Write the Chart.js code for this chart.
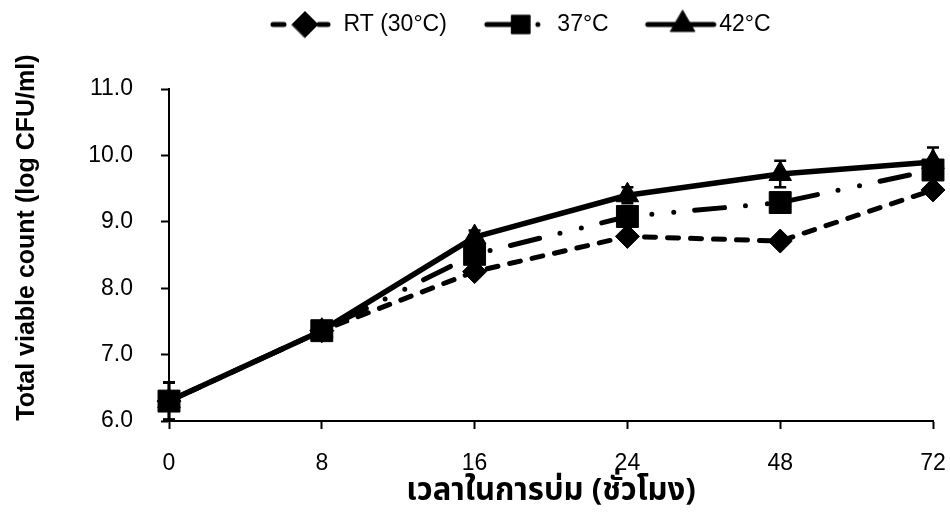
<!DOCTYPE html>
<html lang="th">
<head>
<meta charset="UTF-8">
<title>Total viable count</title>
<script src="https://cdn.jsdelivr.net/npm/chart.js"></script>
<style>
  html, body { margin: 0; padding: 0; background: #fff; }
  .chart-box { width: 950px; height: 530px; }
</style>
</head>
<body>
<div class="chart-box">
  <canvas id="tvcChart"></canvas>
</div>
<script>
// ชั่วโมงที่บ่ม (แกน x เป็นหมวดหมู่ ระยะเท่ากัน)
const hours = ['0', '8', '16', '24', '48', '72'];

// log CFU/ml
const rt30 = [6.30, 7.36, 8.25, 8.78, 8.71, 9.48];
const c37 = [6.30, 7.36, 8.51, 9.08, 9.29, 9.78];
const c42 = [6.30, 7.36, 8.77, 9.40, 9.72, 9.90];

// SD (error bars)
const sdRt = [0.28, 0.04, 0.05, 0.05, 0.05, 0.06];
const sd37 = [0.28, 0.04, 0.06, 0.10, 0.10, 0.10];
const sd42 = [0.28, 0.04, 0.10, 0.12, 0.20, 0.22];

const seriesNames = ['RT (30°C)', '37°C', '42°C'];
const yMin = 6, yMax = 11, yStep = 1;

const latin = "'Liberation Sans', Arial, sans-serif";
const thai = "'Noto Sans Thai', 'Noto Sans Thai UI', Tahoma, 'Noto Sans', sans-serif";

// small picture for the legend: line + marker like in Excel
function legendSample(w, h, dash, lineFrom, lineTo, markerX, style, radius) {
    const c = document.createElement('canvas');
    c.width = w;
    c.height = h;
    const g = c.getContext('2d');
    g.strokeStyle = '#000';
    g.fillStyle = '#000';
    g.lineWidth = 5;
    g.lineCap = 'round';
    g.setLineDash(dash);
    g.beginPath();
    g.moveTo(lineFrom, h / 2);
    g.lineTo(lineTo, h / 2);
    g.stroke();
    g.setLineDash([]);
    g.lineWidth = 1;
    Chart.helpers.drawPoint(g, { pointStyle: style, radius: radius, rotation: 0, borderWidth: 1 }, markerX, h / 2);
    return c;
}

const dashRt = [11, 12];
const dash37 = [30, 21, 0, 22, 0, 21];

const samples = [
    legendSample(64, 32, dashRt, 3, 58, 35, 'rectRot', 13),
    legendSample(72, 32, dash37, 7, 66, 41, 'rect', 13),
    legendSample(84, 32, [], 12, 78, 47, 'triangle', 14)
];

// error bars drawn under the markers, through the chart's own scales
const sdList = [sdRt, sd37, sd42];
const errorBars = {
    id: 'errorBars',
    beforeDatasetsDraw(chart) {
        const { ctx, scales: { x, y } } = chart;
        ctx.save();
        ctx.strokeStyle = '#000';
        ctx.lineWidth = 2.5;
        chart.data.datasets.forEach((ds, i) => {
            sdList[i].forEach((sd, j) => {
                const px = x.getPixelForValue(j);
                const top = y.getPixelForValue(ds.data[j] + sd);
                const bot = y.getPixelForValue(ds.data[j] - sd);
                ctx.beginPath();
                ctx.moveTo(px, top);
                ctx.lineTo(px, bot);
                ctx.moveTo(px - 6, top);
                ctx.lineTo(px + 6, top);
                ctx.moveTo(px - 6, bot);
                ctx.lineTo(px + 6, bot);
                ctx.stroke();
            });
        });
        ctx.restore();
    }
};

// legend: fixed height, moved up and to the right like the original
const legendFix = {
    id: 'legendFix',
    beforeInit(chart) {
        const fit = chart.legend.fit;
        chart.legend.fit = function () {
            fit.call(this);
            this.height = 89;
        };
    },
    afterLayout(chart) {
        chart.legend.left = 233;
        chart.legend.top = -26;
    }
};

function lineSet(label, data, dash, style, radius, width) {
    return {
        label: label,
        data: data,
        borderColor: '#000',
        backgroundColor: '#000',
        borderWidth: width,
        borderDash: dash,
        borderCapStyle: 'round',
        borderJoinStyle: 'round',
        tension: 0,
        pointStyle: style,
        pointRadius: radius,
        pointHoverRadius: radius,
        pointBackgroundColor: '#000',
        pointBorderColor: '#000',
        pointBorderWidth: 1,
        clip: false
    };
}

const ctx = document.getElementById('tvcChart').getContext('2d');
const chart = new Chart(ctx, {
    type: 'line',
    data: {
        labels: hours,
        datasets: [
            Object.assign(lineSet(seriesNames[0], rt30, dashRt, 'rectRot', 12, 5), { order: 3 }),
            Object.assign(lineSet(seriesNames[1], c37, dash37, 'rect', 15.5, 5), { order: 2 }),
            Object.assign(lineSet(seriesNames[2], c42, [], 'triangle', 13, 5.5), { order: 1 })
        ]
    },
    plugins: [errorBars, legendFix],
    options: {
        responsive: true,
        maintainAspectRatio: false,
        animation: false,
        layout: { padding: 0 },
        plugins: {
            tooltip: { enabled: false },
            legend: {
                position: 'top',
                align: 'start',
                labels: {
                    color: '#000',
                    font: { family: latin, size: 23 },
                    usePointStyle: true,
                    pointStyleWidth: 60,
                    padding: 39,
                    generateLabels: () => seriesNames.map((name, i) => ({
                        text: name,
                        pointStyle: samples[i],
                        fillStyle: '#000',
                        strokeStyle: '#000',
                        lineWidth: 0,
                        hidden: false,
                        datasetIndex: i
                    }))
                }
            }
        },
        scales: {
            x: {
                type: 'category',
                offset: false,
                border: { display: true, color: '#000', width: 2 },
                grid: { display: true, drawOnChartArea: false, drawTicks: true, tickLength: 8, tickColor: '#000', tickWidth: 2 },
                ticks: { color: '#000', font: { family: latin, size: 23 }, padding: 21, maxRotation: 0 },
                title: {
                    display: true,
                    text: 'เวลาในการบ่ม (ชั่วโมง)',
                    color: '#000',
                    font: { family: thai, size: 31, weight: 'bold' },
                    padding: { top: 0, bottom: 18 }
                },
                afterFit(scale) {
                    scale.height = 109;
                    scale.paddingRight = 17;
                }
            },
            y: {
                min: yMin,
                max: yMax,
                border: { display: true, color: '#000', width: 2 },
                grid: { display: true, drawOnChartArea: false, drawTicks: true, tickLength: 8, tickColor: '#000', tickWidth: 2 },
                ticks: {
                    stepSize: yStep,
                    color: '#000',
                    padding: 28,
                    font: { family: latin, size: 23 },
                    callback: v => Number(v).toFixed(1)
                },
                title: {
                    display: true,
                    text: '     Total viable count (log CFU/ml)',
                    color: '#000',
                    font: { family: latin, size: 25, weight: 'bold' },
                    padding: { top: 12, bottom: 0 }
                },
                afterFit(scale) { scale.width = 169; }
            }
        }
    }
});
</script>
</body>
</html>
